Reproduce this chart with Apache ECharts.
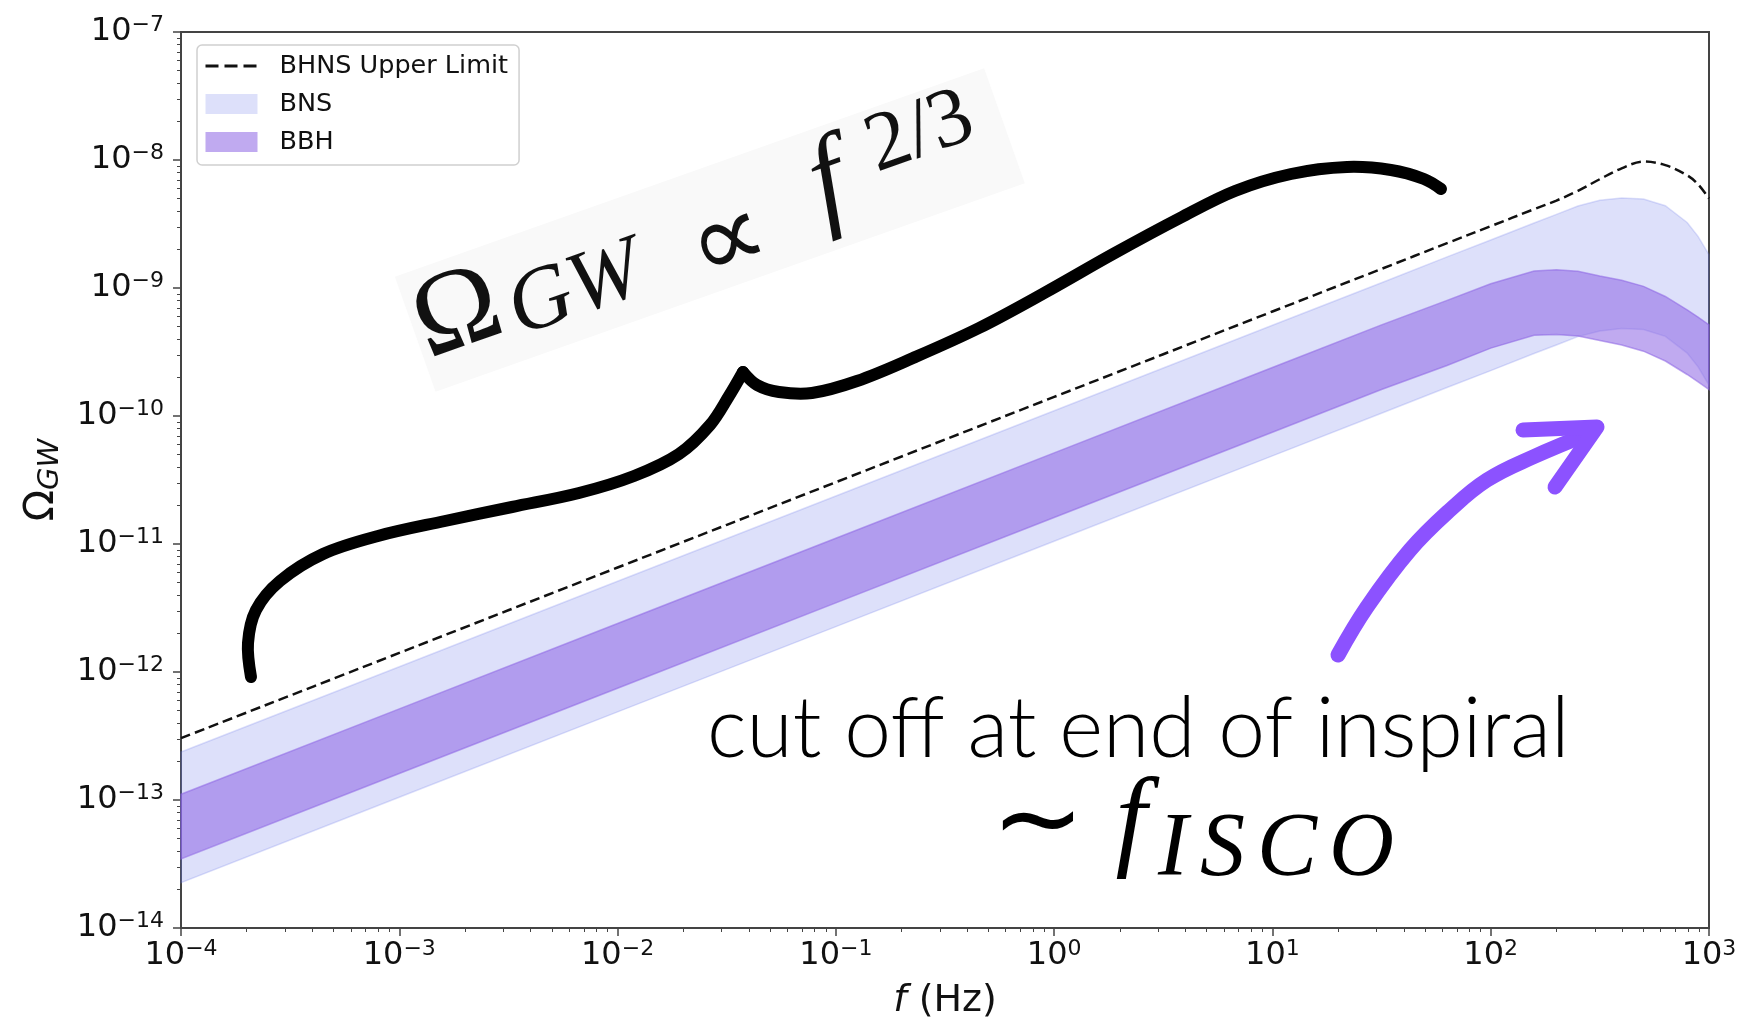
<!DOCTYPE html>
<html>
<head>
<meta charset="utf-8">
<script src="https://cdn.jsdelivr.net/npm/echarts@6/dist/echarts.min.js"></script>
<style>
html, body { margin: 0; padding: 0; background: #fff; }
#chart { width: 1745px; height: 1026px; }
</style>
</head>
<body>
<div id="chart"></div>
<script>
// frequency grid (Hz), denser near the turnover
const freq = [1e-4, 1e-3, 1e-2, 1e-1, 1, 10, 31.6, 63.1, 100, 158, 200, 251, 316, 398, 501, 631, 794, 891, 1000];

// BHNS upper limit (dashed)
const bhnsUpper = [3.04e-13, 1.41e-12, 6.55e-12, 3.04e-11, 1.41e-10, 6.55e-10, 1.41e-9, 2.24e-9, 3.04e-9, 4.13e-9,
  4.82e-9, 5.75e-9, 7.08e-9, 8.61e-9, 9.73e-9, 9.12e-9, 7.59e-9, 6.46e-9, 5.01e-9];

// BNS band
const bnsHigh = [2.37e-13, 1.10e-12, 5.11e-12, 2.37e-11, 1.10e-10, 5.11e-10, 1.10e-9, 1.75e-9, 2.37e-9, 3.22e-9,
  3.76e-9, 4.37e-9, 4.84e-9, 5.05e-9, 4.95e-9, 4.39e-9, 3.25e-9, 2.53e-9, 1.82e-9];
const bnsLow = [2.26e-14, 1.05e-13, 4.88e-13, 2.26e-12, 1.05e-11, 4.88e-11, 1.05e-10, 1.67e-10, 2.26e-10, 3.08e-10,
  3.59e-10, 4.17e-10, 4.62e-10, 4.82e-10, 4.73e-10, 4.19e-10, 3.10e-10, 2.42e-10, 1.74e-10];

// BBH band
const bbhHigh = [1.11e-13, 5.15e-13, 2.39e-12, 1.11e-11, 5.15e-11, 2.39e-10, 5.15e-10, 8.0e-10, 1.08e-9, 1.36e-9,
  1.39e-9, 1.35e-9, 1.24e-9, 1.15e-9, 1.03e-9, 8.59e-10, 6.76e-10, 5.93e-10, 5.16e-10];
const bbhLow = [3.47e-14, 1.61e-13, 7.46e-13, 3.47e-12, 1.61e-11, 7.46e-11, 1.61e-10, 2.48e-10, 3.39e-10, 4.27e-10,
  4.34e-10, 4.21e-10, 3.89e-10, 3.58e-10, 3.21e-10, 2.69e-10, 2.11e-10, 1.85e-10, 1.61e-10];

const bnsColor = 'rgba(110,120,235,0.23)'
const bbhColor = 'rgba(140,100,228,0.55)'
const FONT = 'DejaVu Sans'
const SERIF = 'Liberation Serif'

// 10^n label as rich text
function powLabel(v) {
  let n = Math.round(Math.log10(v))
  return '{b|10}{s|' + String(n).replace('-', '\u2212') + '}'
}

const tickRich = {
  b: { fontSize: 32, lineHeight: 36, fontFamily: FONT, color: '#111' },
  s: { fontSize: 22, lineHeight: 24, verticalAlign: 'top', fontFamily: FONT, color: '#111' }
}

function bandItem(high, low, color) {
  return function (params, api) {
    let pts = []
    for (let i = 0; i < freq.length; i++) pts.push(api.coord([freq[i], high[i]]))
    for (let i = freq.length - 1; i >= 0; i--) pts.push(api.coord([freq[i], low[i]]))
    return {
      type: 'polygon',
      shape: { points: pts },
      style: { fill: color, stroke: color, lineWidth: 1.5 }
    }
  }
}

const axisCommon = {
  type: 'log',
  logBase: 10,
  axisLine: { show: true, lineStyle: { color: '#444', width: 2 } },
  axisTick: { show: true, inside: false, length: 8, lineStyle: { color: '#444', width: 1.5 } },
  minorTick: { show: true, splitNumber: 9, length: 4, lineStyle: { color: '#444', width: 1 } },
  splitLine: { show: false },
  minorSplitLine: { show: false },
  axisLabel: { formatter: powLabel, rich: tickRich, hideOverlap: false, showMinLabel: true, showMaxLabel: true }
}

// hand-drawn brace, two arms meeting at the cusp
const braceLeft = [[251, 677], [248, 643], [256, 610], [280, 581], [323, 554], [378, 536], [445, 521], [512, 507],
  [579, 493], [634, 476], [679, 454], [710, 425], [729, 396], [743, 372]]
const braceRight = [[743, 372], [757, 385], [779, 392], [812, 393], [857, 381], [913, 358], [979, 328], [1046, 292],
  [1113, 254], [1180, 218], [1235, 191], [1291, 174], [1347, 167], [1391, 170], [1424, 179], [1441, 189]]

let myChart = echarts.init(document.getElementById('chart'), null, { renderer: 'canvas' })

myChart.setOption({
  backgroundColor: '#fff',
  animation: false,
  grid: {
    left: 181, right: 36, top: 32, bottom: 98,
    show: true, borderColor: '#444', borderWidth: 2, backgroundColor: 'transparent'
  },
  legend: {
    orient: 'vertical',
    left: 197,
    top: 45,
    padding: [8, 11, 10, 7],
    itemGap: 12,
    itemWidth: 52,
    itemHeight: 20,
    backgroundColor: 'rgba(255,255,255,0.8)',
    borderColor: '#d0d0d0',
    borderWidth: 1.5,
    borderRadius: 5,
    textStyle: { fontFamily: FONT, fontSize: 25.5, color: '#111', lineHeight: 26, padding: [0, 0, 0, 17] },
    data: [
      {
        name: 'BHNS Upper Limit',
        itemStyle: { color: 'rgba(0,0,0,0)', borderColor: 'rgba(0,0,0,0)', borderWidth: 0 },
        lineStyle: { color: '#111', width: 3, type: [13, 6] }
      },
      { name: 'BNS', icon: 'rect' },
      { name: 'BBH', icon: 'rect' }
    ]
  },
  xAxis: Object.assign({}, axisCommon, {
    min: 1e-4,
    max: 1e3,
    axisLabel: Object.assign({}, axisCommon.axisLabel, { margin: 10 }),
    name: '{i|f} (Hz)',
    nameLocation: 'middle',
    nameGap: 54,
    nameTextStyle: {
      fontFamily: FONT, fontSize: 38, color: '#111',
      rich: { i: { fontFamily: FONT, fontSize: 38, fontStyle: 'italic', color: '#111' } }
    }
  }),
  yAxis: Object.assign({}, axisCommon, {
    min: 1e-14,
    max: 1e-7,
    axisLabel: Object.assign({}, axisCommon.axisLabel, { margin: 17 }),
    name: '{o|\u03A9}{g|GW}',
    nameLocation: 'middle',
    nameGap: 116,
    nameTextStyle: {
      color: '#111',
      rich: {
        o: { fontFamily: FONT, fontSize: 41, lineHeight: 46, color: '#111' },
        g: { fontFamily: FONT, fontSize: 29, fontStyle: 'italic', lineHeight: 34, verticalAlign: 'bottom', color: '#111' }
      }
    }
  }),
  series: [
    {
      type: 'custom',
      name: 'BNS',
      coordinateSystem: 'cartesian2d',
      itemStyle: { color: bnsColor },
      renderItem: bandItem(bnsHigh, bnsLow, bnsColor),
      data: [[freq[0], bnsLow[0]]],
      z: 1
    },
    {
      type: 'custom',
      name: 'BBH',
      coordinateSystem: 'cartesian2d',
      itemStyle: { color: bbhColor },
      renderItem: bandItem(bbhHigh, bbhLow, bbhColor),
      data: [[freq[0], bbhLow[0]]],
      z: 2
    },
    {
      type: 'line',
      name: 'BHNS Upper Limit',
      data: freq.map((f, i) => [f, bhnsUpper[i]]),
      symbol: 'none',
      smooth: 0.35,
      lineStyle: { color: '#111', width: 2.5, type: [10, 5] },
      itemStyle: { color: '#111' },
      z: 3
    }
  ],
  graphic: [
    {
      type: 'polyline',
      z: 100,
      shape: { smooth: 0.35, points: braceLeft },
      style: { stroke: '#000', lineWidth: 12, lineCap: 'round', lineJoin: 'round', fill: null }
    },
    {
      type: 'polyline',
      z: 100,
      shape: { smooth: 0.35, points: braceRight },
      style: { stroke: '#000', lineWidth: 12, lineCap: 'round', lineJoin: 'round', fill: null }
    },
    // formula with faint backdrop
    {
      type: 'group',
      x: 418,
      y: 330,
      rotation: 0.34,
      z: 100,
      children: [
        {
          type: 'rect',
          shape: { x: -4, y: -58, width: 625, height: 122 },
          style: { fill: '#f9f9f9' }
        },
        {
          type: 'text',
          style: {
            text: '{o|\u03A9}{g|GW}{sp| }{f|f}{e|2/3}',
            x: 0, y: 0,
            verticalAlign: 'middle',
            align: 'left',
            fill: '#111',
            rich: {
              o: { fontFamily: SERIF, fontSize: 115, lineHeight: 120, fill: '#111' },
              g: { fontFamily: SERIF, fontStyle: 'italic', fontSize: 88, lineHeight: 84, verticalAlign: 'bottom', padding: [0, 0, 0, 8], fill: '#111' },
              sp: { fontFamily: FONT, fontSize: 40, width: 189 },
              f: { fontFamily: SERIF, fontStyle: 'italic', fontSize: 115, lineHeight: 120, fill: '#111' },
              e: { fontFamily: SERIF, fontSize: 84, lineHeight: 74, verticalAlign: 'top', padding: [0, 0, 0, 34], fill: '#111' }
            }
          }
        },
        {
          type: 'text',
          style: {
            text: '\u221D',
            x: 322, y: 24,
            align: 'center',
            verticalAlign: 'middle',
            fontFamily: FONT, fontSize: 108,
            fill: '#111'
          }
        }
      ]
    },
    // purple arrow
    {
      type: 'polyline',
      z: 100,
      shape: {
        smooth: 0.4,
        points: [[1338, 655], [1367, 607], [1410, 550], [1450, 510], [1487, 480], [1533, 457], [1593, 432]]
      },
      style: { stroke: '#8c52ff', lineWidth: 15, lineCap: 'round', lineJoin: 'round', fill: null }
    },
    {
      type: 'polyline',
      z: 100,
      shape: { points: [[1523, 430], [1597, 427], [1555, 487]] },
      style: { stroke: '#8c52ff', lineWidth: 15, lineCap: 'round', lineJoin: 'round', fill: null }
    },
    {
      type: 'text',
      z: 100,
      style: {
        text: 'cut off at end of inspiral',
        x: 707, y: 688,
        align: 'left',
        verticalAlign: 'top',
        fontFamily: 'Lato', fontWeight: 300, fontSize: 84,
        fill: '#000'
      }
    },
    {
      type: 'text',
      z: 100,
      style: {
        text: '\u223C',
        x: 1038, y: 827,
        align: 'center',
        verticalAlign: 'middle',
        fontFamily: FONT, fontSize: 112,
        fill: '#000'
      }
    },
    {
      type: 'text',
      z: 100,
      style: {
        text: 'f',
        x: 1131, y: 770,
        align: 'center',
        verticalAlign: 'top',
        fontFamily: SERIF, fontStyle: 'italic', fontSize: 112,
        fill: '#000'
      }
    },
    {
      type: 'text',
      z: 100,
      style: {
        text: '{a|I}{a|S}{a|C}{a|O}',
        x: 1152, y: 806,
        align: 'left',
        verticalAlign: 'top',
        fill: '#000',
        rich: {
          a: { fontFamily: SERIF, fontStyle: 'italic', fontSize: 90, padding: [0, 6, 0, 6], fill: '#000' }
        }
      }
    }
  ]
})

window.addEventListener('resize', () => {
  myChart.resize()
})
</script>
</body>
</html>
